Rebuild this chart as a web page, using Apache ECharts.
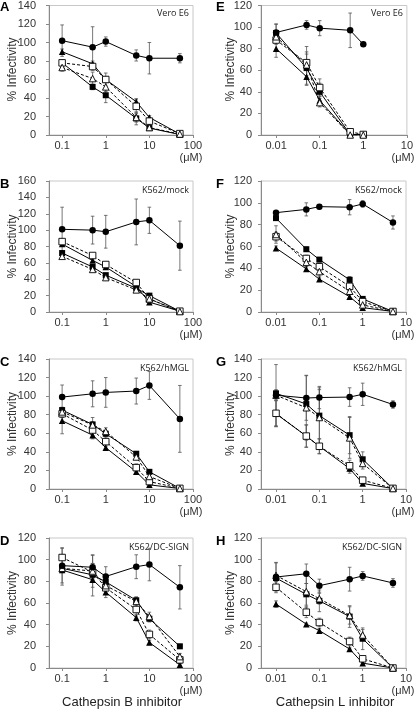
<!DOCTYPE html>
<html><head><meta charset="utf-8">
<script src="https://cdn.jsdelivr.net/npm/echarts@6/dist/echarts.min.js"></script>
<style>html,body{margin:0;padding:0;background:#fff}#c{width:416px;height:712px}</style>
</head><body><div id="c"></div>
<script>
// concentrations (µM)
const xB = [0.1, 0.5, 1, 5, 10, 50];
const xL = [0.01, 0.05, 0.1, 0.5, 1, 5];
const ticksB = [0.1, 1, 10, 100];
const ticksL = [0.01, 0.1, 1, 10];

// Panel A – Vero E6, Cathepsin B inhibitor
const A_circ = [102, 95, 101, 86, 83, 83];      const A_circE = [17, 22, 5, 6, 17, 5];
const A_tri  = [90, 77, 60, 36, 19, 1];         const A_triE  = [3, 3, 3, 3, 2, 0];
const A_sq   = [78, 52, 43, 18, 7.5, 0.5];      const A_sqE   = [2, 3, 8, 7, 2, 0];
const A_osq  = [78, 74, 60, 31, 15, 1.5];       const A_osqE  = [3, 4, 7, 8, 4, 1];
const A_otri = [73, 61, 52, 19, 8, 1];          const A_otriE = [4, 7, 5, 5, 3, 0];
// Panel E – Vero E6, Cathepsin L inhibitor
const E_circ = [95, 102, 99, 97, 84, null];     const E_circE = [8, 4, 7, 16, 0, 0];
const E_tri  = [80, 54, 32, 0.5, 0.5, null];    const E_triE  = [8, 8, 4, 0, 0, 0];
const E_sq   = [94.5, 62, 40, 0.5, 0.5, null];  const E_sqE   = [8, 15, 8, 0, 0, 0];
const E_osq  = [88, 67, 44, 3, 0.5, null];      const E_osqE  = [4, 15, 8, 1, 0, 0];
const E_otri = [91, 65, 30, 0, 0, null];        const E_otriE = [4, 10, 4, 0, 0, 0];
// Panel B – K562/mock, Cathepsin B inhibitor
const B_circ = [101, 100, 98, 110, 112, 81];    const B_circE = [27, 17, 20, 28, 16, 30];
const B_tri  = [83, 63, 55, 31, 12, 1];         const B_triE  = [2, 2, 2, 2, 2, 0];
const B_sq   = [72, 55, 45, 29, 20, 1];         const B_sqE   = [3, 2, 2, 2, 2, 0];
const B_osq  = [86, 69, 58, 36, 16, 1];         const B_osqE  = [3, 2, 2, 3, 2, 0];
const B_otri = [68, 52, 42, 27, 16, 0.5];       const B_otriE = [3, 2, 2, 2, 2, 0];
// Panel F – K562/mock, Cathepsin L inhibitor
const F_circ = [91, 94, 96.5, 96, 99, 82];      const F_circE = [2, 6, 2, 7, 3, 6];
const F_tri  = [58.5, 39.5, 30, 14, 4, 0.5];    const F_triE  = [2, 2, 2, 2, 1, 0];
const F_sq   = [86, 57.5, 48, 29.5, 12, 0.5];   const F_sqE   = [2, 2, 2, 3, 1, 0];
const F_osq  = [69, 49, 41.5, 23.5, 9.5, 0.5];  const F_osqE  = [4, 3, 3, 4, 2, 0];
const F_otri = [71, 45.5, 37, 19, 6.5, 0.5];    const F_otriE = [8, 4, 4, 3, 2, 0];
// Panel C – K562/hMGL, Cathepsin B inhibitor
const C_circ = [99, 102.5, 104, 105.5, 111.5, 75.5]; const C_circE = [13, 14, 16, 14, 15, 36];
const C_tri  = [73.5, 58, 44.5, 18.5, 4.5, 0.5];     const C_triE  = [14, 4, 3, 2, 1, 0];
const C_sq   = [85, 69.5, 59.5, 38, 18.5, 0.7];      const C_sqE   = [3, 3, 3, 2, 2, 0];
const C_osq  = [81, 63.5, 51, 23, 8, 0.7];           const C_osqE  = [4, 6, 5, 4, 2, 0];
const C_otri = [83, 69, 62, 34.5, 13.5, 0.5];        const C_otriE = [4, 8, 4, 3, 3, 0];
// Panel G – K562/hMGL, Cathepsin L inhibitor
const G_circ = [101, 98, 98.5, 99, 102, 91];    const G_circE = [5, 24, 12, 10, 12, 4];
const G_tri  = [81, 57, 46, 22, 6, 0.5];        const G_triE  = [14, 12, 8, 5, 2, 0];
const G_sq   = [103, 91.5, 79, 58, 32, 0.5];    const G_sqE   = [4, 6, 30, 20, 8, 0];
const G_osq  = [81.5, 57, 46, 25, 9.5, 0.7];    const G_osqE  = [14, 12, 8, 6, 3, 0];
const G_otri = [101, 87.5, 77, 55, 27.5, 0.5];  const G_otriE = [33, 35, 30, 22, 6, 0];
// Panel D – K562/DC-SIGN, Cathepsin B inhibitor
const D_circ = [94.5, 93, 84.5, 93.5, 95.5, 74.5]; const D_circE = [16, 11, 9, 11, 15, 20];
const D_tri  = [90.5, 81.5, 70, 46.5, 23.5, 3];    const D_triE  = [14, 15, 5, 3, 2, 1];
const D_sq   = [92, 86, 79.5, 62.5, 45.5, 20];     const D_sqE   = [2, 3, 3, 3, 3, 2];
const D_osq  = [102, 88.5, 74, 54, 31, 7.5];       const D_osqE  = [9, 8, 5, 6, 4, 3];
const D_otri = [92, 89.5, 76, 61.5, 47.5, 10.5];   const D_otriE = [4, 15, 4, 4, 4, 3];
// Panel H – K562/DC-SIGN, Cathepsin L inhibitor
const H_circ = [84, 87, 76, 82, 85, 78.5];      const H_circE = [13, 9, 6, 11, 4, 4];
const H_tri  = [59, 40.5, 34.5, 17.5, 4.5, 0];  const H_triE  = [3, 1, 2, 1, 1, 0];
const H_sq   = [83, 68, 62, 47.5, 27, 0];       const H_sqE   = [3, 10, 10, 10, 10, 0];
const H_osq  = [74.5, 51.5, 42, 24.5, 8.5, 0];  const H_osqE  = [5, 5, 4, 4, 2, 0];
const H_otri = [85.5, 70.5, 64, 48.5, 30.5, 0]; const H_otriE = [12, 15, 5, 8, 5, 0];

const cellLines = ['Vero E6', 'Vero E6', 'K562/mock', 'K562/mock', 'K562/hMGL', 'K562/hMGL', 'K562/DC-SIGN', 'K562/DC-SIGN'];
const letters = ['A', 'E', 'B', 'F', 'C', 'G', 'D', 'H'];
const yMaxes = [140, 120, 160, 120, 140, 140, 120, 120];
const yTitle = '% Infectivity';
const unitLabel = '(μM)';
const xTitles = ['Cathepsin B inhibitor', 'Cathepsin L inhibitor'];

const panelData = [
  [[A_circ, A_circE], [A_tri, A_triE], [A_sq, A_sqE], [A_osq, A_osqE], [A_otri, A_otriE]],
  [[E_circ, E_circE], [E_tri, E_triE], [E_sq, E_sqE], [E_osq, E_osqE], [E_otri, E_otriE]],
  [[B_circ, B_circE], [B_tri, B_triE], [B_sq, B_sqE], [B_osq, B_osqE], [B_otri, B_otriE]],
  [[F_circ, F_circE], [F_tri, F_triE], [F_sq, F_sqE], [F_osq, F_osqE], [F_otri, F_otriE]],
  [[C_circ, C_circE], [C_tri, C_triE], [C_sq, C_sqE], [C_osq, C_osqE], [C_otri, C_otriE]],
  [[G_circ, G_circE], [G_tri, G_triE], [G_sq, G_sqE], [G_osq, G_osqE], [G_otri, G_otriE]],
  [[D_circ, D_circE], [D_tri, D_triE], [D_sq, D_sqE], [D_osq, D_osqE], [D_otri, D_otriE]],
  [[H_circ, H_circE], [H_tri, H_triE], [H_sq, H_sqE], [H_osq, H_osqE], [H_otri, H_otriE]]
];

// layout
const gridBoxes = [
  [49, 4, 144, 131], [261, 4, 146, 131],
  [49, 181, 144, 131], [261, 181, 145, 131],
  [49, 359, 144, 130], [261, 359, 145, 130],
  [49, 538, 144, 130], [261, 538, 145, 130]
];
const styles = [
  {symbol: 'circle', size: 6.5, fill: '#000', dash: 'solid'},
  {symbol: 'triangle', size: 6.5, fill: '#000', dash: 'solid'},
  {symbol: 'rect', size: 6, fill: '#000', dash: 'solid'},
  {symbol: 'rect', size: 6.5, fill: '#fff', dash: [3, 2]},
  {symbol: 'triangle', size: 6.5, fill: '#fff', dash: [3, 2]}
];
const FONT = '"Liberation Sans", Arial, sans-serif';
const fmt = v => String(Number(Number(v).toPrecision(6)));

const grids = [], xAxes = [], yAxes = [], series = [], graphics = [];
gridBoxes.forEach((g, i) => {
  const right = i % 2 === 1;
  const xs = right ? xL : xB;
  const ticks = right ? ticksL : ticksB;
  grids.push({left: g[0], top: g[1], width: g[2], height: g[3], show: true, borderColor: '#c8c8c8', borderWidth: 1, containLabel: false});
  xAxes.push({
    type: 'log', logBase: 10, gridIndex: i, min: right ? 0.0045 : 0.05, max: right ? 10 : 100,
    axisLine: {lineStyle: {color: '#8a8a8a', width: 1}},
    axisTick: {show: true, inside: false, length: 3, customValues: ticks, lineStyle: {color: '#8a8a8a'}},
    axisLabel: {customValues: ticks, formatter: fmt, margin: 5, fontFamily: FONT, fontSize: 11, color: '#333'},
    splitLine: {show: false}, minorTick: {show: false}
  });
  yAxes.push({
    type: 'value', gridIndex: i, min: 0, max: yMaxes[i], interval: 20,
    axisLine: {show: true, lineStyle: {color: '#8a8a8a', width: 1}},
    axisTick: {show: true, inside: false, length: 3, lineStyle: {color: '#8a8a8a'}},
    axisLabel: {margin: right ? 9 : 13, fontFamily: FONT, fontSize: 11, color: '#333'},
    splitLine: {show: false}
  });
  panelData[i].forEach((pair, k) => {
    const vals = pair[0], errs = pair[1];
    const st = styles[k];
    const pts = [], ebs = [];
    xs.forEach((x, j) => {
      if (vals[j] == null) return;
      pts.push([x, vals[j]]);
      if (errs[j]) ebs.push([x, vals[j], errs[j]]);
    });
    series.push({
      type: 'custom', xAxisIndex: i, yAxisIndex: i, data: ebs, silent: true, z: 1,
      renderItem: (params, api) => {
        const x = api.value(0), y = api.value(1), e = api.value(2);
        const t = api.coord([x, y + e]);
        const b = api.coord([x, Math.max(0, y - e)]);
        const w = 1.8, ss = {stroke: '#555', lineWidth: 0.8};
        return {type: 'group', children: [
          {type: 'line', shape: {x1: t[0], y1: t[1], x2: b[0], y2: b[1]}, style: ss},
          {type: 'line', shape: {x1: t[0] - w, y1: t[1], x2: t[0] + w, y2: t[1]}, style: ss},
          {type: 'line', shape: {x1: b[0] - w, y1: b[1], x2: b[0] + w, y2: b[1]}, style: ss}
        ]};
      }
    });
    series.push({
      type: 'line', xAxisIndex: i, yAxisIndex: i, data: pts, z: 3 + (k === 0 ? 2 : 0),
      symbol: st.symbol, symbolSize: st.size, showAllSymbol: true,
      lineStyle: {color: '#000', width: 1, type: st.dash},
      itemStyle: {color: st.fill, borderColor: '#000', borderWidth: st.fill === '#fff' ? 0.9 : 0},
      emphasis: {disabled: true}
    });
  });
  // panel letter
  graphics.push({type: 'text', left: right ? 216 : 0, top: g[1] - 3,
    style: {text: letters[i], font: 'bold 13px ' + FONT, fill: '#000'}});
  // cell line label
  graphics.push({type: 'text', x: g[0] + g[2] - 4, y: g[1] + 9,
    style: {text: cellLines[i], font: '9px "Open Sans", sans-serif', fill: '#222', align: 'right', verticalAlign: 'middle'}});
  // y title
  graphics.push({type: 'text', x: right ? 231 : 13, y: g[1] + g[3] / 2, rotation: Math.PI / 2,
    style: {text: yTitle, font: '12px ' + FONT, fill: '#333', align: 'center', verticalAlign: 'middle'}});
  // unit label
  graphics.push({type: 'text', x: right ? 403 : 191, y: g[1] + g[3] + 23,
    style: {text: unitLabel, font: '11px ' + FONT, fill: '#333', align: 'center', verticalAlign: 'middle'}});
});
graphics.push({type: 'text', x: 122, y: 702, style: {text: xTitles[0], font: '13px ' + FONT, fill: '#222', align: 'center', verticalAlign: 'middle'}});
graphics.push({type: 'text', x: 335, y: 702, style: {text: xTitles[1], font: '13px ' + FONT, fill: '#222', align: 'center', verticalAlign: 'middle'}});

const chart = echarts.init(document.getElementById('c'), null, {renderer: 'canvas'});
chart.setOption({
  animation: false,
  backgroundColor: '#fff',
  grid: grids, xAxis: xAxes, yAxis: yAxes, series: series, graphic: graphics
});
</script></body></html>
